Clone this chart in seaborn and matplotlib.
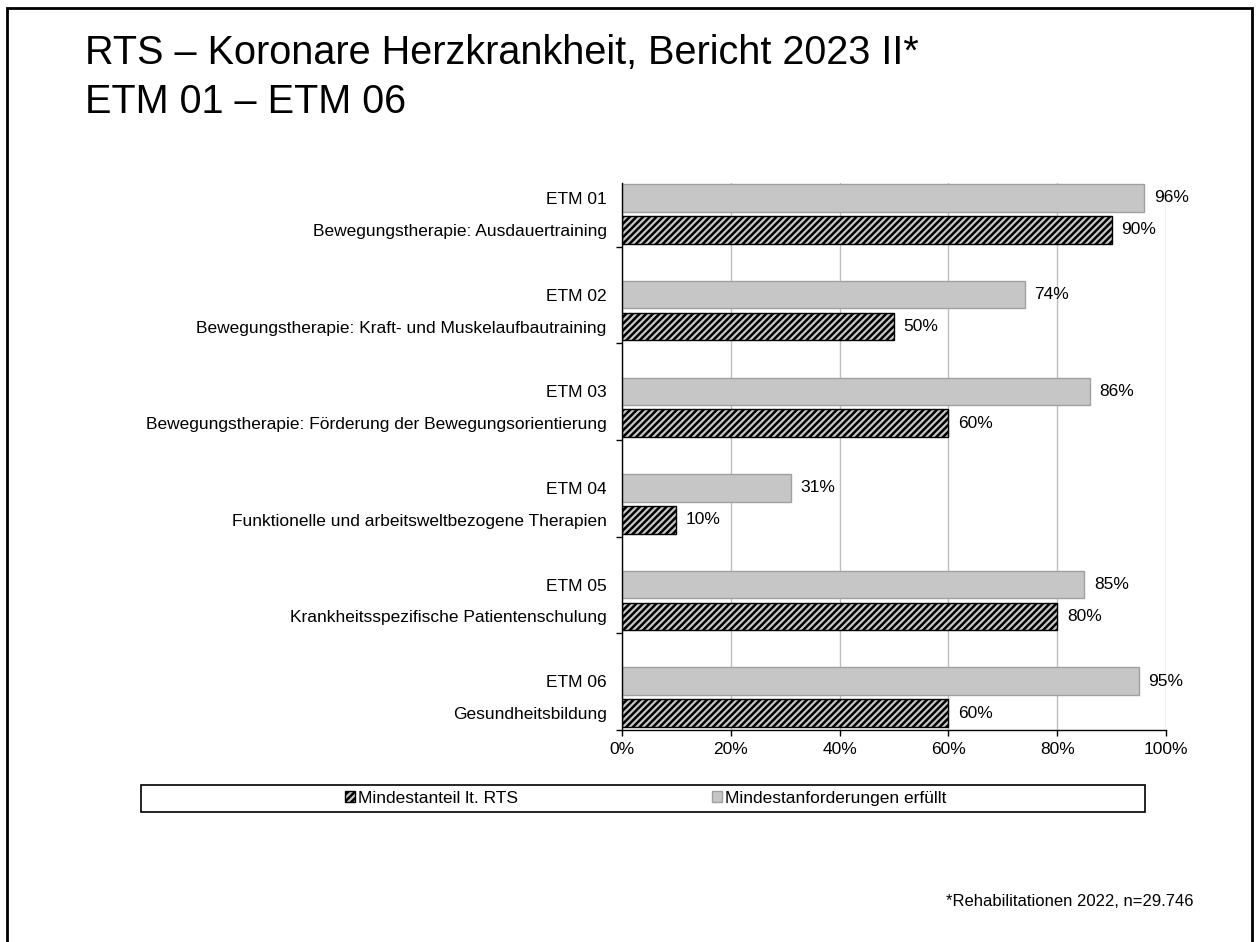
import numpy as np
import pandas as pd
import matplotlib.pyplot as plt
import seaborn as sns
from matplotlib.patches import Patch, Rectangle
from matplotlib.ticker import PercentFormatter

# Daten
etm = ["ETM 01", "ETM 02", "ETM 03", "ETM 04", "ETM 05", "ETM 06"]
beschreibung = [
    "Bewegungstherapie: Ausdauertraining",
    "Bewegungstherapie: Kraft- und Muskelaufbautraining",
    "Bewegungstherapie: Förderung der Bewegungsorientierung",
    "Funktionelle und arbeitsweltbezogene Therapien",
    "Krankheitsspezifische Patientenschulung",
    "Gesundheitsbildung",
]
erfuellt = [0.96, 0.74, 0.86, 0.31, 0.85, 0.95]
mindestanteil = [0.90, 0.50, 0.60, 0.10, 0.80, 0.60]
serien = ["Mindestanforderungen erfüllt", "Mindestanteil lt. RTS"]

df = pd.DataFrame({
    "ETM": etm * 2,
    "Serie": [serien[0]] * 6 + [serien[1]] * 6,
    "Anteil": erfuellt + mindestanteil,
})

sns.set_theme(style="white")
plt.rcParams["font.family"] = ["Liberation Sans", "DejaVu Sans"]
plt.rcParams["text.color"] = "black"
plt.rcParams["xtick.color"] = "black"
plt.rcParams["ytick.color"] = "black"
plt.rcParams["hatch.linewidth"] = 1.8

FS = 12.5
W, H = 1259, 942
fig = plt.figure(figsize=(W / 100, H / 100), dpi=100)
ax = fig.add_axes([622 / W, 1 - 730 / H, 544 / W, 547 / H])

sns.barplot(data=df, y="ETM", x="Anteil", hue="Serie", hue_order=serien,
            palette=["#c6c6c6", "#c8c8c8"], saturation=1, width=0.66, gap=0.14,
            orient="h", legend=False, ax=ax)

for p in ax.containers[0]:
    p.set_edgecolor("#a0a0a0")
    p.set_linewidth(1)
for p in ax.containers[1]:
    p.set_hatch("/////")
    p.set_edgecolor("black")
    p.set_linewidth(1)

# Wertebeschriftung
ax.bar_label(ax.containers[0], labels=[f"{v:.0%}" for v in erfuellt], padding=7,
             fontsize=FS, color="black")
ax.bar_label(ax.containers[1], labels=[f"{v:.0%}" for v in mindestanteil], padding=7,
             fontsize=FS, color="black")

# Achsen
off = 0.165
pos, labels = [], []
for i in range(len(etm)):
    pos += [i - off, i + off]
    labels += [etm[i], beschreibung[i]]
ax.set_yticks(pos, labels)
ax.set_yticks(np.arange(len(etm)) + 0.34, minor=True)
ax.tick_params(axis="y", which="major", length=0, pad=11, labelsize=FS, labelcolor="black")
ax.tick_params(axis="y", which="minor", left=True, length=4, width=1, color="black")
ax.set_ylim(5.34, -0.32)

ax.set_xlim(0, 1)
ax.set_xticks(np.arange(0, 1.01, 0.2))
ax.xaxis.set_major_formatter(PercentFormatter(1.0, decimals=0))
ax.tick_params(axis="x", bottom=True, length=4, width=1, color="black", labelsize=FS,
               labelcolor="black", pad=5)
ax.grid(axis="x", color="#bfbfbf", linewidth=1)
ax.set_axisbelow(True)
ax.set_xlabel("")
ax.set_ylabel("")
for s in ["top", "right"]:
    ax.spines[s].set_visible(False)
for s in ["left", "bottom"]:
    ax.spines[s].set_color("black")
    ax.spines[s].set_linewidth(1)

# Titel
fig.text(85 / W, 1 - 34 / H, "RTS – Koronare Herzkrankheit, Bericht 2023 II*\nETM 01 – ETM 06",
         fontsize=28.5, va="top", ha="left", linespacing=1.38, color="black")

# Legende
handles = [Patch(facecolor="#c8c8c8", edgecolor="black", hatch="/////"),
           Patch(facecolor="#c6c6c6", edgecolor="#a0a0a0")]
fig.legend(handles, [serien[1], serien[0]], loc="center",
           bbox_to_anchor=(645.5 / W, 1 - 798.5 / H), ncol=2, frameon=False,
           fontsize=FS, handlelength=0.6, handleheight=0.6, handletextpad=0.15,
           columnspacing=11.2)
fig.patches.append(Rectangle((141 / W, 1 - 812 / H), (1145 - 141) / W, 27 / H,
                             transform=fig.transFigure, fill=False, lw=1.2, ec="black"))

# Fußnote
fig.text(1193 / W, 1 - 902 / H, "*Rehabilitationen 2022, n=29.746",
         fontsize=12, ha="right", va="center", color="black")

# Rahmen
fig.patches.append(Rectangle((7 / W, -0.01), (1252 - 7) / W, (H - 8) / H + 0.01,
                             transform=fig.transFigure, fill=False, lw=2, ec="black"))

fig.savefig("out.png", dpi=100)
